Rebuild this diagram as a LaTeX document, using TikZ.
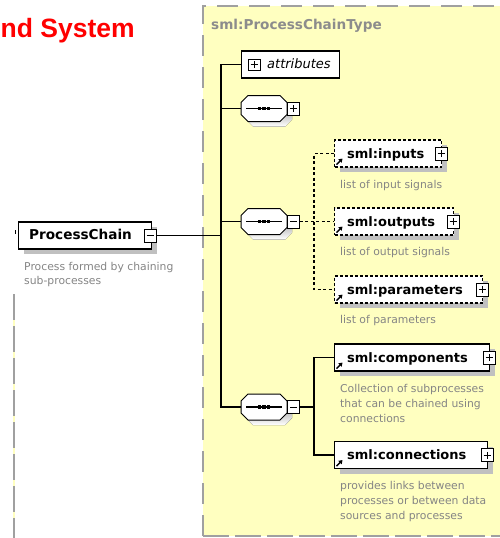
\documentclass[tikz,border=0pt]{standalone}
\usepackage{fontspec}
\setmainfont{DejaVu Sans}
\newfontfamily\headfont{Liberation Sans}
\usetikzlibrary{shadows,arrows.meta}
\definecolor{panel}{HTML}{FFFFC0}
\definecolor{panelline}{HTML}{A0A0A0}
\definecolor{shade}{HTML}{C0C0C0}
\definecolor{desccol}{HTML}{858585}
\definecolor{typecol}{HTML}{8C8C8C}
\begin{document}
\begin{tikzpicture}[x=1pt,y=-1pt,
  wire/.style={line width=1.2pt, black},
  optwire/.style={wire, dash pattern=on 3pt off 2.5pt},
  shadowed/.style={drop shadow={shadow xshift=5pt, shadow yshift=-5pt, fill=shade, opacity=1}},
  elbox/.style={draw, fill=white, line width=1.1pt, minimum height=27pt, inner sep=0pt, anchor=west, shadowed},
  optbox/.style={elbox, dash pattern=on 3pt off 2pt},
  pmbox/.style={draw, fill=white, line width=0.9pt, minimum width=12pt, minimum height=13pt, inner sep=0pt},
  plusbox/.style={pmbox, path picture={
      \draw[line width=0.9pt] ([xshift=-3.5pt]path picture bounding box.center) -- ([xshift=3.5pt]path picture bounding box.center)
        ([yshift=-3.5pt]path picture bounding box.center) -- ([yshift=3.5pt]path picture bounding box.center);}},
  minusbox/.style={pmbox, path picture={
      \draw[line width=0.9pt] ([xshift=-3.5pt]path picture bounding box.center) -- ([xshift=3.5pt]path picture bounding box.center);}},
  seqspot/.style={minimum width=46pt, minimum height=26pt, inner sep=0pt},
  elname/.style={anchor=base west, inner sep=0pt, font=\fontsize{13}{15}\selectfont\bfseries},
  descr/.style={anchor=base west, inner sep=0pt, text=desccol, font=\fontsize{10.8}{15}\selectfont},
  refarrow/.style={line width=1.4pt, -{Triangle[length=3.6pt,width=4.6pt]}}
]
\clip (0,0) rectangle (500,538);

% heading
\node[anchor=base west, inner sep=0pt, text=red, font=\headfont\bfseries\fontsize{26.5}{30}\selectfont] (head) at (0.5,37.5) {nd System};

% complex type panel
\fill[panel] (203,6) rectangle (520,536);
\draw[panelline, line width=2pt, dash pattern=on 21pt off 11pt] (203,536) -- (203,6) -- (520,6);
\draw[panelline, line width=2pt, dash pattern=on 26pt off 6pt] (203,536) -- (520,536);
\node[anchor=base west, inner sep=0pt, text=typecol, font=\fontsize{13.6}{15}\selectfont\bfseries] (ptype) at (211,29) {sml:ProcessChainType};

% left margin line
\coordinate (lmTop) at (14,294);
\coordinate (lmBot) at (14,538);
\draw[panel, line width=2pt] (lmTop) -- (lmBot);
\draw[panelline, line width=2pt, dash pattern=on 26pt off 6pt] (lmTop) -- (lmBot);

% root element
\node[elbox, minimum width=133pt] (pc) at (18,235.5) {};
\node[elname, font=\fontsize{13.6}{15}\selectfont\bfseries] (pct) at ([shift={(11,4)}]pc.west) {ProcessChain};
\node[minusbox] (pcm) at ([xshift=-2pt]pc.east) {};
\draw[line width=1pt] (15.5,230) -- (15.5,234);
\node[descr] (pcd1) at (24,270) {Process formed by chaining};
\node[descr] (pcd2) at (24,284) {sub-processes};

% attributes
\node[draw, fill=white, line width=1.1pt, minimum width=98pt, minimum height=27pt, inner sep=0pt, anchor=west] (attr) at (241,64.5) {};
\node[plusbox, minimum width=12pt, minimum height=11pt] (attrp) at (254,64.5) {};
\node[anchor=base west, inner sep=0pt, font=\fontsize{13}{15}\selectfont\itshape] (attrt) at (267,68.5) {attributes};

% sequence compositors
\node[seqspot] (s1) at (264,108.5) {};
\node[seqspot] (s2) at (264,221.5) {};
\node[seqspot] (s3) at (264,407) {};
\foreach \s in {s1,s2,s3} {
  \fill[shade] ([shift={(5,5)}]\s.center) ++(-23,-6) -- ++(7,-7) -- ++(32,0) -- ++(7,7) -- ++(0,12) -- ++(-7,7) -- ++(-32,0) -- ++(-7,-7) -- cycle;
  \draw[fill=white, line width=1pt] (\s.center) ++(-23,-6) -- ++(7,-7) -- ++(32,0) -- ++(7,7) -- ++(0,12) -- ++(-7,7) -- ++(-32,0) -- ++(-7,-7) -- cycle;
  \draw[line width=1.1pt] ([xshift=-18pt]\s.center) -- ([xshift=18pt]\s.center);
  \foreach \d in {-4.4,0,4.4}
    \fill ([shift={(\d-1.6,-1.6)}]\s.center) rectangle ++(3.2,3.2);
}
\node[plusbox] (s1p) at (293.5,108.5) {};
\node[minusbox] (s2m) at (293.5,221.5) {};
\node[minusbox] (s3m) at (293.5,407) {};

% child elements
\node[optbox, minimum width=107pt] (in) at (334,153.5) {};
\node[optbox, minimum width=119pt] (out) at (334,221.5) {};
\node[optbox, minimum width=148pt] (par) at (334,289.5) {};
\node[elbox, minimum width=155pt] (comp) at (334,357.5) {};
\node[elbox, minimum width=153pt] (conn) at (334,455) {};

\node[elname] (int) at ([shift={(13,4.7)}]in.west) {sml:inputs};
\node[elname] (outt) at ([shift={(13,4.7)}]out.west) {sml:outputs};
\node[elname] (part) at ([shift={(13,4.7)}]par.west) {sml:parameters};
\node[elname] (compt) at ([shift={(13,4.7)}]comp.west) {sml:components};
\node[elname] (connt) at ([shift={(13,4.7)}]conn.west) {sml:connections};

\foreach \e in {in,out,par,comp,conn} {
  \node[plusbox] (\e p) at ([xshift=-1pt]\e.east) {};
  \draw[refarrow] ([shift={(2.5,-3)}]\e.south west) -- ([shift={(8.5,-9)}]\e.south west);
}

\node[descr] (ind) at (340,188) {list of input signals};
\node[descr] (outd) at (340,255.5) {list of output signals};
\node[descr] (pard) at (340,323.5) {list of parameters};
\node[descr] (compd1) at (340,392) {Collection of subprocesses};
\node[descr] (compd2) at (340,407) {that can be chained using};
\node[descr] (compd3) at (340,422) {connections};
\node[descr] (connd1) at (340,489) {provides links between};
\node[descr] (connd2) at (340,504) {processes or between data};
\node[descr] (connd3) at (340,519) {sources and processes};

% connectors
\coordinate (bus) at (221,0);
\coordinate (jx) at (314,0);
\draw[wire] (attr.west) -- (attr.west -| bus) -- (s3.west -| bus) -- (s3.west);
\draw[wire] (s1.west) -- (s1.west -| bus);
\draw[wire] (s2.west) -- (s2.west -| bus);
\draw[wire] (pcm.east) -- (pcm.east -| bus);
\draw[optwire] (s2m.east) -- (out.west);
\draw[optwire] (in.west) -- (in.west -| jx) -- (par.west -| jx) -- (par.west);
\draw[wire] (s3m.east) -- (s3m.east -| jx);
\draw[wire] (comp.west) -- (comp.west -| jx) -- (conn.west -| jx) -- (conn.west);
\end{tikzpicture}
\end{document}
